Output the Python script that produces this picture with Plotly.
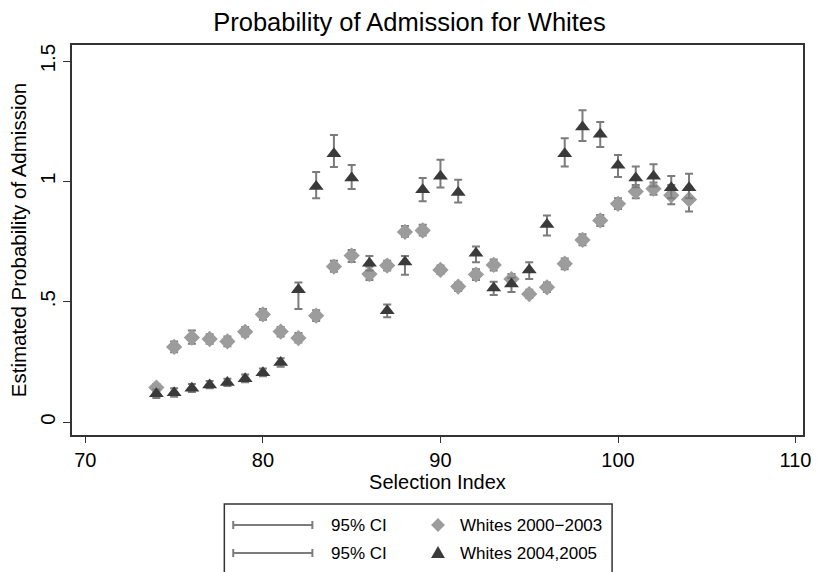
import plotly.graph_objects as go

# ---------------- data ----------------
selection_index = list(range(74, 105))

w0003_est = [0.143, 0.312, 0.351, 0.345, 0.335, 0.375, 0.447, 0.376, 0.349, 0.442,
             0.646, 0.692, 0.615, 0.650, 0.790, 0.796, 0.632, 0.563, 0.613, 0.653,
             0.594, 0.532, 0.560, 0.658, 0.757, 0.838, 0.907, 0.958, 0.970, 0.942, 0.925]
w0003_lo = [0.128, 0.290, 0.325, 0.325, 0.315, 0.355, 0.425, 0.355, 0.330, 0.420,
            0.625, 0.665, 0.590, 0.630, 0.770, 0.775, 0.615, 0.545, 0.590, 0.630,
            0.570, 0.515, 0.540, 0.635, 0.735, 0.815, 0.885, 0.930, 0.945, 0.905, 0.875]
w0003_hi = [0.158, 0.335, 0.380, 0.365, 0.355, 0.395, 0.470, 0.395, 0.370, 0.465,
            0.670, 0.715, 0.645, 0.670, 0.815, 0.820, 0.650, 0.580, 0.635, 0.675,
            0.615, 0.550, 0.580, 0.680, 0.780, 0.860, 0.930, 0.985, 0.995, 0.985, 0.975]

w0405_est = [0.117, 0.122, 0.140, 0.154, 0.164, 0.180, 0.205, 0.247, 0.550, 0.979,
             1.115, 1.014, 0.660, 0.462, 0.665, 0.965, 1.021, 0.954, 0.701, 0.557,
             0.574, 0.632, 0.821, 1.115, 1.226, 1.196, 1.067, 1.014, 1.021, 0.974, 0.974]
w0405_lo = [0.100, 0.105, 0.125, 0.140, 0.150, 0.165, 0.190, 0.230, 0.470, 0.930,
            1.060, 0.968, 0.630, 0.435, 0.612, 0.918, 0.975, 0.912, 0.664, 0.528,
            0.540, 0.594, 0.775, 1.062, 1.168, 1.143, 1.018, 0.976, 0.979, 0.930, 0.930]
w0405_hi = [0.135, 0.140, 0.158, 0.170, 0.180, 0.197, 0.222, 0.265, 0.580, 1.039,
            1.193, 1.068, 0.690, 0.488, 0.690, 1.014, 1.090, 1.007, 0.729, 0.583,
            0.600, 0.664, 0.858, 1.179, 1.296, 1.247, 1.110, 1.062, 1.071, 1.022, 1.032]

x_ticks = [70, 80, 90, 100, 110]
y_ticks = [0, 0.5, 1, 1.5]
y_tick_text = ["0", ".5", "1", "1.5"]

series_names = ["Whites 2000\u22122003", "Whites 2004,2005"]
ci_label = "95% CI"

# ---------------- style ----------------
W, H = 819, 572
ML, MR, MT, MB = 72, 8, 45, 137
FONT = "Liberation Sans, Arial, sans-serif"
CI_COLOR = "#7c7c7c"
DIAMOND_COLOR = "#9c9c9c"
TRI_COLOR = "#3a3a3a"


def px_x(p):
    return (p - ML) / (W - ML - MR)


def px_y(p):
    return (H - MB - p) / (H - MT - MB)


def err(est, lo, hi):
    return dict(type="data", symmetric=False,
                array=[h - e for e, h in zip(est, hi)],
                arrayminus=[e - l for e, l in zip(est, lo)],
                color=CI_COLOR, thickness=2, width=4)


fig = go.Figure()
fig.add_trace(go.Scatter(
    x=selection_index, y=w0003_est, mode="markers", name=series_names[0],
    marker=dict(symbol="diamond", size=12.5, color=DIAMOND_COLOR,
                line=dict(width=0)),
    error_y=err(w0003_est, w0003_lo, w0003_hi), showlegend=False))
fig.add_trace(go.Scatter(
    x=selection_index, y=w0405_est, mode="markers", name=series_names[1],
    marker=dict(symbol="triangle-up", size=13, color=TRI_COLOR,
                line=dict(width=0)),
    error_y=err(w0405_est, w0405_lo, w0405_hi), showlegend=False))

# ---------------- legend (drawn) ----------------
shapes = []
annotations = []
box_l, box_r, box_t, box_b = 226, 618, 504, 590
shapes.append(dict(type="rect", xref="paper", yref="paper",
                   x0=px_x(box_l), x1=px_x(box_r), y0=px_y(box_b), y1=px_y(box_t),
                   line=dict(color="#333333", width=1.5), fillcolor="white", layer="above"))
rows = [525, 553]
for i, ry in enumerate(rows):
    lx0, lx1 = 235, 315
    shapes.append(dict(type="line", xref="paper", yref="paper",
                       x0=px_x(lx0), x1=px_x(lx1), y0=px_y(ry), y1=px_y(ry),
                       line=dict(color=CI_COLOR, width=2), layer="above"))
    for cx in (lx0, lx1):
        shapes.append(dict(type="line", xref="paper", yref="paper",
                           x0=px_x(cx), x1=px_x(cx), y0=px_y(ry - 4), y1=px_y(ry + 4),
                           line=dict(color=CI_COLOR, width=2), layer="above"))
    annotations.append(dict(x=px_x(332), y=px_y(ry), xref="paper", yref="paper",
                            text=ci_label, showarrow=False, xanchor="left",
                            yanchor="middle", font=dict(family=FONT, size=17, color="black")))
    mx = 442
    if i == 0:
        path = "M {} {} L {} {} L {} {} L {} {} Z".format(
            px_x(mx), px_y(ry - 7), px_x(mx + 7), px_y(ry),
            px_x(mx), px_y(ry + 7), px_x(mx - 7), px_y(ry))
        col = DIAMOND_COLOR
    else:
        path = "M {} {} L {} {} L {} {} Z".format(
            px_x(mx), px_y(ry - 7), px_x(mx + 7), px_y(ry + 5),
            px_x(mx - 7), px_y(ry + 5))
        col = TRI_COLOR
    shapes.append(dict(type="path", xref="paper", yref="paper", path=path,
                       fillcolor=col, line=dict(width=0), layer="above"))
    annotations.append(dict(x=px_x(462), y=px_y(ry), xref="paper", yref="paper",
                            text=series_names[i], showarrow=False, xanchor="left",
                            yanchor="middle", font=dict(family=FONT, size=17, color="black")))

fig.update_layout(
    width=W, height=H,
    margin=dict(l=ML, r=MR, t=MT, b=MB),
    paper_bgcolor="white", plot_bgcolor="white",
    font=dict(family=FONT, size=20, color="black"),
    title=dict(text="Probability of Admission for Whites", x=0.5, xref="container",
               y=1 - 22 / H, yref="container", xanchor="center", yanchor="middle",
               font=dict(family=FONT, size=25.5, color="black")),
    xaxis=dict(range=[69.248, 110.42], tickvals=x_ticks, showgrid=False, zeroline=False,
               ticks="outside", ticklen=6, tickcolor="#333333", tickwidth=1,
               showline=True, linecolor="#333333", linewidth=1.5, mirror=True,
               title=dict(text="Selection Index", font=dict(size=20), standoff=0),
               tickfont=dict(size=20)),
    yaxis=dict(range=[-0.054, 1.567], tickvals=y_ticks, ticktext=y_tick_text,
               showgrid=False, zeroline=False, tickangle=-90,
               ticks="outside", ticklen=7, tickcolor="#333333", tickwidth=1,
               showline=True, linecolor="#333333", linewidth=1.5, mirror=True,
               title=dict(text="Estimated Probability of Admission", font=dict(size=20.5), standoff=4),
               tickfont=dict(size=20.5)),
    shapes=shapes, annotations=annotations,
)

fig.write_html("out.html")
